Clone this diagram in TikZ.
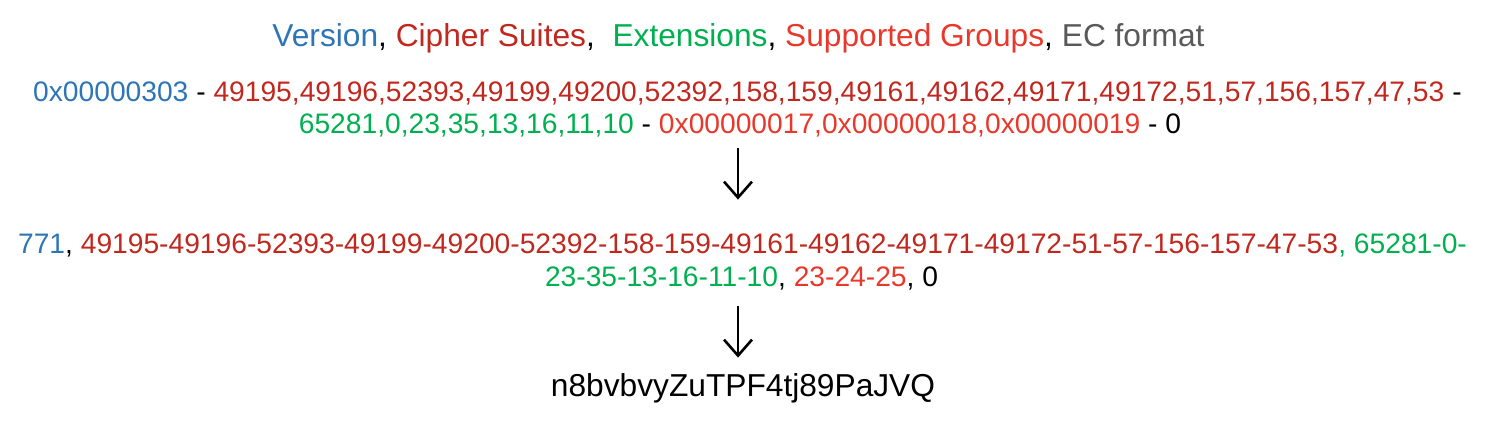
\documentclass[tikz,border=0pt]{standalone}
\usepackage{fontspec}
\setmainfont{Liberation Sans}
\usetikzlibrary{arrows.meta}
\definecolor{cblue}{HTML}{2E75B6}
\definecolor{cdred}{HTML}{C0281F}
\definecolor{cgreen}{HTML}{00B050}
\definecolor{cred}{HTML}{E8382C}
\definecolor{cgray}{HTML}{595959}
\tikzset{
  txt/.style={inner sep=0pt, anchor=base, font=\fontsize{15.85}{19}\selectfont,
    text height=11pt, text depth=2.5pt},
  num/.style={inner sep=0pt, anchor=base, font=\fontsize{14.1}{17}\selectfont,
    text height=10pt, text depth=2.2pt},
  arr/.style={line width=1.3pt, -{Straight Barb[length=8pt,width=14pt,line width=1.3pt]}}
}
\begin{document}
\begin{tikzpicture}[x=0.5pt,y=-0.5pt]
\useasboundingbox (0,0) rectangle (1495,438);
\node[txt] (title) at (738.5,47) {\textcolor{cblue}{Version}, \textcolor{cdred}{Cipher Suites},\ \ \textcolor{cgreen}{Extensions}, \textcolor{cred}{Supported Groups}, \textcolor{cgray}{EC format}};
\node[num] (r2a) at (747.5,102) {\textcolor{cblue}{0x00000303} - \textcolor{cdred}{49195,49196,52393,49199,49200,52392,158,159,49161,49162,49171,49172,51,57,156,157,47,53} -};
\node[num] (r2b) at (740,134) {\textcolor{cgreen}{65281,0,23,35,13,16,11,10} - \textcolor{cred}{0x00000017,0x00000018,0x00000019} - 0};
\node[num] (r3a) at (742.5,254) {\textcolor{cblue}{771}, \textcolor{cdred}{49195-49196-52393-49199-49200-52392-158-159-49161-49162-49171-49172-51-57-156-157-47-53}\textcolor{cgreen}{, 65281-0-}};
\node[num] (r3b) at (741.5,287) {\textcolor{cgreen}{23-35-13-16-11-10}, \textcolor{cred}{23-24-25}, 0};
\node[txt] (fp) at (743,397) {n8bvbvyZuTPF4tj89PaJVQ};
\coordinate (ax) at (738,0);
\draw[arr, shorten <=4.8pt, shorten >=17pt] (r2b.south -| ax) -- (r3a.north -| ax);
\draw[arr, shorten <=7.3pt, shorten >=8.5pt] (r3b.south -| ax) -- (fp.north -| ax);
\end{tikzpicture}
\end{document}
